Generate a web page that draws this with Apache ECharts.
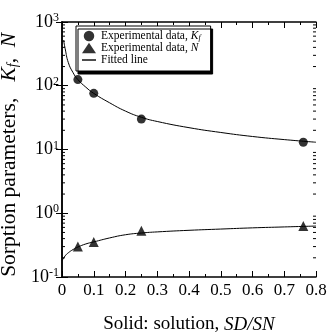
<!DOCTYPE html>
<html>
<head>
<meta charset="utf-8">
<script src="https://cdn.jsdelivr.net/npm/echarts@6/dist/echarts.min.js"></script>
<style>
  html, body { margin: 0; padding: 0; background: #fff; }
  #chart { width: 329px; height: 332px; }
</style>
</head>
<body>
<div id="chart"></div>
<script>
var kfData = [[0.05, 125], [0.1, 76], [0.25, 30], [0.76, 13]];
var nData = [[0.05, 0.30], [0.1, 0.355], [0.25, 0.53], [0.76, 0.63]];

// fitted curves
var kfFit = [[0.005, 520], [0.01, 380], [0.02, 230], [0.035, 160], [0.05, 125], [0.075, 95],
  [0.1, 76], [0.15, 54], [0.2, 40], [0.25, 32], [0.3, 27.5], [0.4, 22], [0.5, 18.5],
  [0.6, 16], [0.7, 14.3], [0.8, 13]];
var nFit = [[0, 0.18], [0.01, 0.215], [0.02, 0.24], [0.035, 0.27], [0.05, 0.295], [0.075, 0.33],
  [0.1, 0.355], [0.15, 0.41], [0.2, 0.46], [0.25, 0.49], [0.3, 0.51], [0.4, 0.54],
  [0.5, 0.565], [0.6, 0.59], [0.7, 0.61], [0.8, 0.63]];

var decades = [0.1, 1, 10, 100];
var minorTicks = [];
decades.forEach(function (d) {
  for (var m = 2; m <= 9; m++) minorTicks.push([0, d * m]);
});

var serif = '"Liberation Serif", "DejaVu Serif", serif';
var chart = echarts.init(document.getElementById('chart'));

function expLabel(v) {
  var e = Math.round(Math.log10(v));
  return '{b|10}{s|' + e + '}';
}

var tickStyle = { color: '#000', width: 1 };

chart.setOption({
  animation: false,
  grid: { left: 62, right: 13, top: 22, bottom: 55, outerBoundsMode: 'none', containLabel: false },
  legend: {
    left: 76, top: 26,
    orient: 'vertical',
    itemGap: 0,
    itemWidth: 14, itemHeight: 10.5,
    padding: [4, 10, 5, 6],
    backgroundColor: '#fff',
    borderColor: '#000', borderWidth: 1,
    shadowColor: '#000', shadowOffsetX: 2, shadowOffsetY: 3, shadowBlur: 0,
    data: [
      { name: 'kf', icon: 'circle' },
      { name: 'n', icon: 'triangle' },
      { name: 'Fitted line', icon: 'path://M0,4 L20,4 L20,6 L0,6 Z' }
    ],
    formatter: function (name) {
      if (name === 'kf') return 'Experimental data, {i|K}{sub|f}';
      if (name === 'n') return 'Experimental data, {i|N}';
      return name;
    },
    textStyle: {
      fontFamily: serif, fontSize: 11.5, color: '#000',
      rich: {
        i: { fontFamily: serif, fontSize: 11.5, fontStyle: 'italic', color: '#000' },
        sub: { fontFamily: serif, fontSize: 8, fontStyle: 'italic', color: '#000', verticalAlign: 'bottom', padding: [4, 0, 0, 0] }
      }
    }
  },
  xAxis: [{
    type: 'value', min: 0, max: 0.8, interval: 0.1,
    name: 'Solid: solution, {i|SD/SN}',
    nameLocation: 'middle', nameGap: 38,
    nameTextStyle: {
      fontFamily: serif, fontSize: 19, color: '#000',
      rich: { i: { fontFamily: serif, fontSize: 19, fontStyle: 'italic', color: '#000' } }
    },
    axisLine: { lineStyle: { color: '#000', width: 1.5 } },
    axisTick: { inside: true, length: 6, lineStyle: tickStyle },
    minorTick: { show: true, splitNumber: 2, length: 3, lineStyle: tickStyle },
    splitLine: { show: false },
    axisLabel: {
      fontFamily: serif, fontSize: 17, color: '#000', margin: 5,
      formatter: function (v) { return v === 0 ? '0' : v.toFixed(1); }
    }
  }, {
    type: 'value', min: 0, max: 0.8, interval: 0.1, position: 'top',
    axisLine: { lineStyle: { color: '#000', width: 1.5 } },
    axisTick: { inside: true, length: 6, lineStyle: tickStyle },
    minorTick: { show: true, splitNumber: 2, length: 3, lineStyle: tickStyle },
    splitLine: { show: false },
    axisLabel: { show: false }
  }],
  yAxis: [{
    type: 'log', logBase: 10, min: 0.1, max: 1000,
    name: 'Sorption parameters,   {i|K}{sub|f}{i|,  N}  ',
    nameLocation: 'middle', nameGap: 35,
    nameTextStyle: {
      fontFamily: serif, fontSize: 21.5, color: '#000',
      rich: {
        i: { fontFamily: serif, fontSize: 21.5, fontStyle: 'italic', color: '#000' },
        sub: { fontFamily: serif, fontSize: 14, fontStyle: 'italic', color: '#000', verticalAlign: 'bottom', padding: [8, 0, 0, 0] }
      }
    },
    axisLine: { show: true, lineStyle: { color: '#000', width: 1.5 } },
    axisTick: { inside: true, length: 6, lineStyle: tickStyle },
    splitLine: { show: false },
    axisLabel: {
      margin: 3,
      formatter: expLabel,
      rich: {
        b: { fontFamily: serif, fontSize: 18, color: '#000', lineHeight: 20 },
        s: { fontFamily: serif, fontSize: 12, color: '#000', verticalAlign: 'top', lineHeight: 13, padding: [0, 0, 7, 0] }
      }
    }
  }, {
    type: 'log', logBase: 10, min: 0.1, max: 1000, position: 'right',
    axisLine: { show: true, lineStyle: { color: '#000', width: 1.5 } },
    axisTick: { inside: true, length: 6, lineStyle: tickStyle },
    splitLine: { show: false },
    axisLabel: { show: false }
  }],
  series: [{
    name: 'minor',
    type: 'custom',
    silent: true,
    data: minorTicks,
    renderItem: function (params, api) {
      var l = api.coord([0, api.value(1)]);
      var r = api.coord([0.8, api.value(1)]);
      return {
        type: 'group',
        children: [
          { type: 'line', shape: { x1: l[0], y1: l[1], x2: l[0] + 3, y2: l[1] }, style: { stroke: '#000', lineWidth: 1 } },
          { type: 'line', shape: { x1: r[0], y1: r[1], x2: r[0] - 3, y2: r[1] }, style: { stroke: '#000', lineWidth: 1 } }
        ]
      };
    }
  }, {
    name: 'Fitted line', type: 'line', data: kfFit, smooth: true, showSymbol: false,
    lineStyle: { color: '#000', width: 1 }, itemStyle: { color: '#000' }
  }, {
    name: 'Fitted line', type: 'line', data: nFit, smooth: true, showSymbol: false,
    lineStyle: { color: '#000', width: 1 }, itemStyle: { color: '#000' }
  }, {
    name: 'kf', type: 'scatter', data: kfData, symbol: 'circle', symbolSize: 9,
    itemStyle: { color: '#000' }
  }, {
    name: 'n', type: 'scatter', data: nData, symbol: 'triangle', symbolSize: 10,
    itemStyle: { color: '#000' }
  }]
});
</script>
</body>
</html>
